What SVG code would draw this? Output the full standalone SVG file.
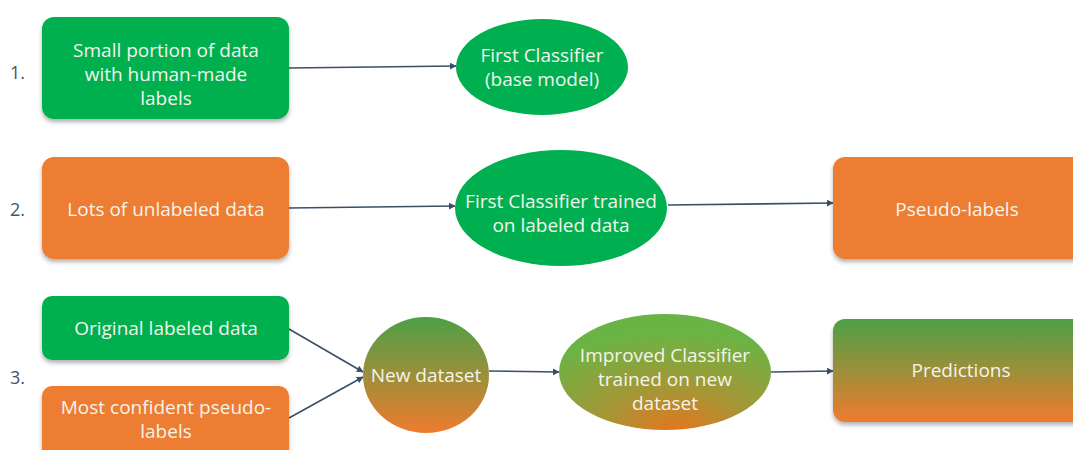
<svg xmlns="http://www.w3.org/2000/svg" width="1073" height="450" viewBox="0 0 1073 450">
<style>
.t{font-family:"Open Sans","Liberation Sans",sans-serif;font-size:19px;fill:#F4F4EC;text-anchor:middle;dominant-baseline:central}
.n{font-family:"Open Sans","Liberation Sans",sans-serif;font-size:18px;fill:#44546A;dominant-baseline:central}
.c{stroke:#3A4F68;stroke-width:1.6;fill:none;marker-end:url(#ah)}
.g{fill:#00B050}
.o{fill:#ED7D31}
</style>
<defs>
<filter id="sh" x="-10%" y="-10%" width="120%" height="130%">
<feDropShadow dx="0" dy="3" stdDeviation="2" flood-color="#000" flood-opacity="0.3"/>
</filter>
<marker id="ah" viewBox="0 0 10 10" refX="9" refY="5" markerWidth="7" markerHeight="7" orient="auto" markerUnits="userSpaceOnUse">
<path d="M0,0 L10,5 L0,10 z" fill="#3A4F68"/>
</marker>
<linearGradient id="lg" x1="0" y1="0" x2="0" y2="1">
<stop offset="0" stop-color="#4CA046"/>
<stop offset="0.5" stop-color="#9C8F3A"/>
<stop offset="1" stop-color="#F07B2E"/>
</linearGradient>
<radialGradient id="rg" cx="0.55" cy="1.0" r="0.85">
<stop offset="0" stop-color="#E4761F"/>
<stop offset="0.4" stop-color="#A89535"/>
<stop offset="1" stop-color="#6AB445"/>
</radialGradient>
</defs>
<g id="labels">
<text class="n" x="10" y="72">1.</text>
<text class="n" x="10" y="209">2.</text>
<text class="n" x="10" y="377">3.</text>
</g>
<g id="connectors">
<line class="c" x1="289" y1="68" x2="456" y2="66"/>
<line class="c" x1="289" y1="208" x2="455" y2="206"/>
<line class="c" x1="668" y1="205" x2="833" y2="203"/>
<line class="c" x1="289" y1="329" x2="363" y2="372"/>
<line class="c" x1="289" y1="418" x2="363" y2="377"/>
<line class="c" x1="489" y1="371" x2="559" y2="372"/>
<line class="c" x1="771" y1="372" x2="833" y2="371"/>
</g>
<g id="small-portion">
<rect class="g" x="42" y="17" width="247" height="102" rx="12" filter="url(#sh)"/>
<text class="t" x="166" y="50">Small portion of data</text>
<text class="t" x="166" y="74">with human-made</text>
<text class="t" x="166" y="98">labels</text>
</g>
<g id="first-classifier">
<ellipse class="g" cx="542" cy="67" rx="86" ry="48"/>
<text class="t" x="542" y="55">First Classifier</text>
<text class="t" x="542" y="79">(base model)</text>
</g>
<g id="unlabeled">
<rect class="o" x="42" y="157" width="247" height="102" rx="12" filter="url(#sh)"/>
<text class="t" x="166" y="209">Lots of unlabeled data</text>
</g>
<g id="trained-classifier">
<ellipse class="g" cx="561" cy="208" rx="106" ry="58"/>
<text class="t" x="561" y="201">First Classifier trained</text>
<text class="t" x="561" y="225">on labeled data</text>
</g>
<g id="pseudo-labels">
<rect class="o" x="833" y="157" width="252" height="102" rx="12" filter="url(#sh)"/>
<text class="t" x="957" y="209">Pseudo-labels</text>
</g>
<g id="original">
<rect class="g" x="42" y="296" width="247" height="64" rx="10" filter="url(#sh)"/>
<text class="t" x="166" y="328">Original labeled data</text>
</g>
<g id="confident">
<rect class="o" x="42" y="386" width="247" height="80" rx="10" filter="url(#sh)"/>
<text class="t" x="166" y="407">Most confident pseudo-</text>
<text class="t" x="166" y="431">labels</text>
</g>
<g id="new-dataset">
<ellipse cx="426" cy="375" rx="63" ry="58" fill="url(#lg)"/>
<text class="t" x="426" y="375">New dataset</text>
</g>
<g id="improved">
<ellipse cx="665" cy="372" rx="106" ry="58" fill="url(#rg)"/>
<text class="t" x="665" y="355">Improved Classifier</text>
<text class="t" x="665" y="379">trained on new</text>
<text class="t" x="665" y="403">dataset</text>
</g>
<g id="predictions">
<rect x="833" y="319" width="252" height="103" rx="12" fill="url(#lg)" filter="url(#sh)"/>
<text class="t" x="961" y="370">Predictions</text>
</g>
</svg>
